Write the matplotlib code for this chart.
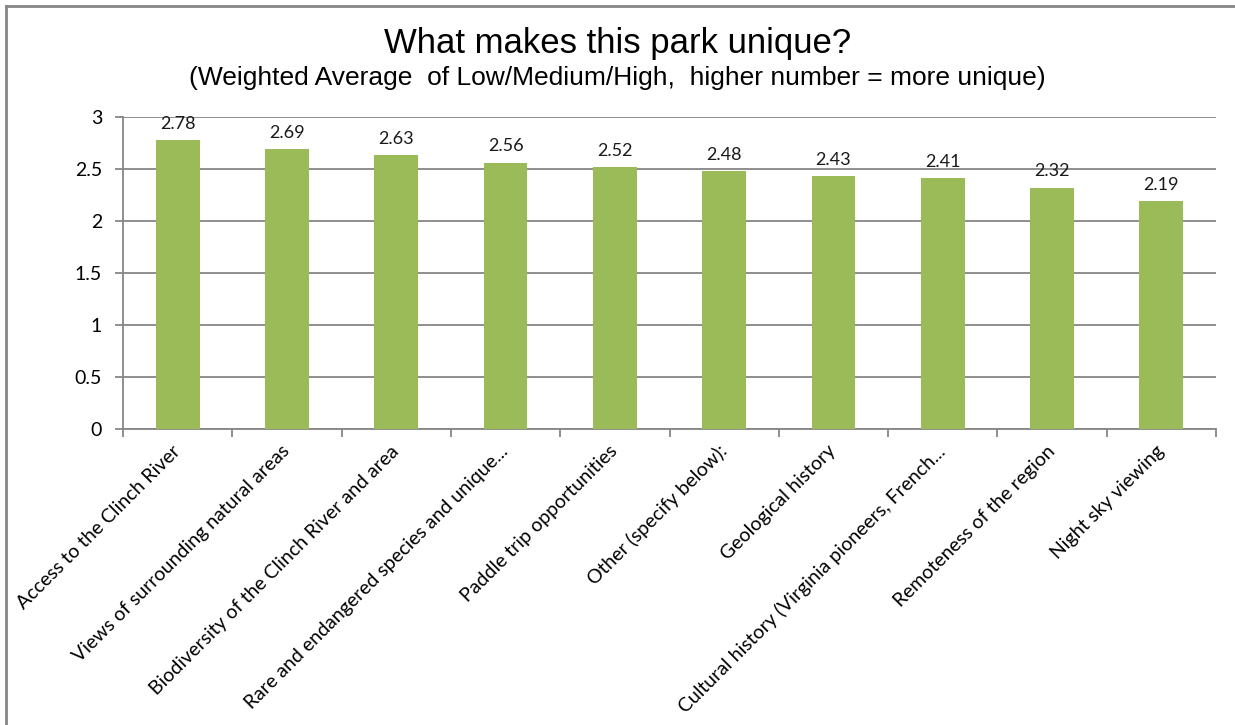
import matplotlib.pyplot as plt
from matplotlib.lines import Line2D
import numpy as np

categories = ['Access to the Clinch River',
              'Views of surrounding natural areas',
              'Biodiversity of the Clinch River and area',
              'Rare and endangered species and unique...',
              'Paddle trip opportunities',
              'Other (specify below):',
              'Geological history',
              'Cultural history (Virginia pioneers, French...',
              'Remoteness of the region',
              'Night sky viewing']
scores = [2.78, 2.69, 2.63, 2.56, 2.52, 2.48, 2.43, 2.41, 2.32, 2.19]

grey = '#868686'
label_font = 'Lato'

fig = plt.figure(figsize=(12.35, 7.25), dpi=100)
ax = fig.add_axes([123 / 1235, 296 / 725, (1216 - 123) / 1235, (429 - 117) / 725])

x = np.arange(len(categories))
bars = ax.bar(x, scores, width=0.4, color='#9BBB59', zorder=3)
for b, v in zip(bars, scores):
    ax.annotate(f'{v:.2f}', (b.get_x() + b.get_width() / 2, v),
                xytext=(0, 6), textcoords='offset points',
                ha='center', va='bottom', fontsize=13,
                family=label_font, color='#1a1a1a', zorder=4)

ax.set_xlim(-0.5, len(categories) - 0.5)
ax.set_ylim(0, 3)
ax.set_yticks(np.arange(0, 3.01, 0.5))
ax.set_yticklabels(['0', '0.5', '1', '1.5', '2', '2.5', '3'],
                   family=label_font, fontsize=14)
ax.yaxis.grid(True, color=grey, linewidth=1.3, zorder=0)

# ticks between categories, labels at the centres
ax.set_xticks(np.arange(-0.5, len(categories), 1.0))
ax.set_xticklabels([])
ax.set_xticks(x, minor=True)
ax.set_xticklabels(categories, minor=True, rotation=45, ha='right',
                   va='center', rotation_mode='anchor',
                   family=label_font, fontsize=14)
ax.tick_params(axis='x', which='minor', length=0, pad=14)
ax.tick_params(axis='both', which='major', length=6, width=1.3,
               color=grey, direction='out')
ax.tick_params(axis='y', pad=9)

for s in ['top', 'right']:
    ax.spines[s].set_visible(False)
for s in ['left', 'bottom']:
    ax.spines[s].set_color(grey)
    ax.spines[s].set_linewidth(1.3)

fig.text(0.5, 1 - 43 / 725, 'What makes this park unique?', ha='center',
         va='center', family='Liberation Sans', fontsize=25)
fig.text(0.5, 1 - 78 / 725,
         '(Weighted Average  of Low/Medium/High,  higher number = more unique)',
         ha='center', va='center', family='Liberation Sans', fontsize=19)

# outer chart frame
fig.add_artist(Line2D([5.5 / 1235, 5.5 / 1235], [0, 1 - 5.5 / 725],
                      transform=fig.transFigure, color=grey, linewidth=2))
fig.add_artist(Line2D([5.5 / 1235, 1], [1 - 5.5 / 725, 1 - 5.5 / 725],
                      transform=fig.transFigure, color=grey, linewidth=2))

plt.savefig('out.png', dpi=100)
